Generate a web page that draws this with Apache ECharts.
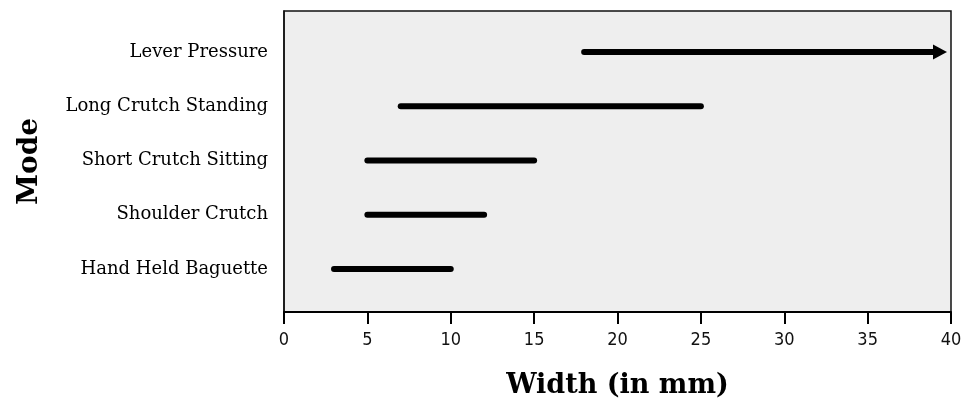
<!DOCTYPE html>
<html>
<head>
    <meta charset="utf-8" />
    <style type="text/css">
        body, html {width: 100%;height: 100%;margin:0;background:#fff;}
        #chart{width:977px;height:416px;}
    </style>
    <script src="https://cdn.jsdelivr.net/npm/echarts@6/dist/echarts.min.js"></script>
    <title>Width by mode</title>
</head>
<body>
<div id="chart"></div>
<script type="text/javascript">
    // bottom to top
    var categories = ['Hand Held Baguette', 'Shoulder Crutch', 'Short Crutch Sitting', 'Long Crutch Standing', 'Lever Pressure'];
    var startValues = [3, 5, 5, 7, 18];
    var endValues = [10, 12, 15, 25, 40];
    var openEnded = [0, 0, 0, 0, 1];   // 1 = drawn with an arrow (range goes on)
    var xTicks = [0, 5, 10, 15, 20, 25, 30, 35, 40];

    var chart = echarts.init(document.getElementById('chart'));

    var rows = categories.map(function (c, i) {
        return [i, startValues[i], endValues[i], openEnded[i]];
    });

    function renderRange(params, api) {
        var y = api.value(0);
        var p0 = api.coord([api.value(1), y]);
        var p1 = api.coord([api.value(2), y]);
        var arrow = api.value(3) === 1;
        var children = [];
        var endX = arrow ? p1[0] - 12 : p1[0];
        children.push({
            type: 'line',
            shape: {x1: p0[0], y1: p0[1], x2: endX, y2: p1[1]},
            style: {stroke: '#000', lineWidth: 6, lineCap: 'round'}
        });
        if (arrow) {
            var tip = p1[0] - 4;
            children.push({
                type: 'polygon',
                shape: {points: [[tip - 14, p1[1] - 7.5], [tip, p1[1]], [tip - 14, p1[1] + 7.5]]},
                style: {fill: '#000'}
            });
        }
        return {type: 'group', children: children};
    }

    var option = {
        backgroundColor: '#fff',
        animation: false,
        grid: {
            left: 284, right: 26, top: 11, bottom: 104,
            show: true,
            backgroundColor: '#eeeeee',
            borderColor: '#111',
            borderWidth: 1.5
        },
        xAxis: {
            type: 'value',
            min: xTicks[0],
            max: xTicks[xTicks.length - 1],
            interval: 5,
            splitLine: {show: false},
            axisLine: {show: true, onZero: false, lineStyle: {color: '#000', width: 2}},
            axisTick: {show: true, length: 12, lineStyle: {color: '#000', width: 2}},
            axisLabel: {
                margin: 19,
                color: '#111',
                fontSize: 18,
                fontFamily: '"DejaVu Sans Condensed", "Liberation Sans Narrow", sans-serif'
            },
            name: 'Width (in mm)',
            nameLocation: 'middle',
            nameGap: 60,
            nameTextStyle: {
                color: '#000',
                fontSize: 27,
                fontWeight: 'bold',
                fontFamily: '"DejaVu Serif", serif'
            }
        },
        yAxis: {
            type: 'value',
            min: -0.793,
            max: 4.756,
            splitLine: {show: false},
            axisLine: {show: true, onZero: false, lineStyle: {color: '#111', width: 1.5}},
            axisTick: {show: false},
            axisLabel: {
                customValues: [0, 1, 2, 3, 4],
                formatter: function (v) { return categories[Math.round(v)]; },
                margin: 16,
                color: '#000',
                fontSize: 18,
                fontFamily: '"DejaVu Serif", serif'
            },
            name: 'Mode',
            nameLocation: 'middle',
            nameRotate: 90,
            nameGap: 240,
            nameTextStyle: {
                color: '#000',
                fontSize: 28,
                fontWeight: 'bold',
                fontFamily: '"DejaVu Serif", serif'
            }
        },
        series: [{
            type: 'custom',
            renderItem: renderRange,
            encode: {x: [1, 2], y: 0},
            data: rows
        }]
    };

    chart.setOption(option);
</script>
</body>
</html>
